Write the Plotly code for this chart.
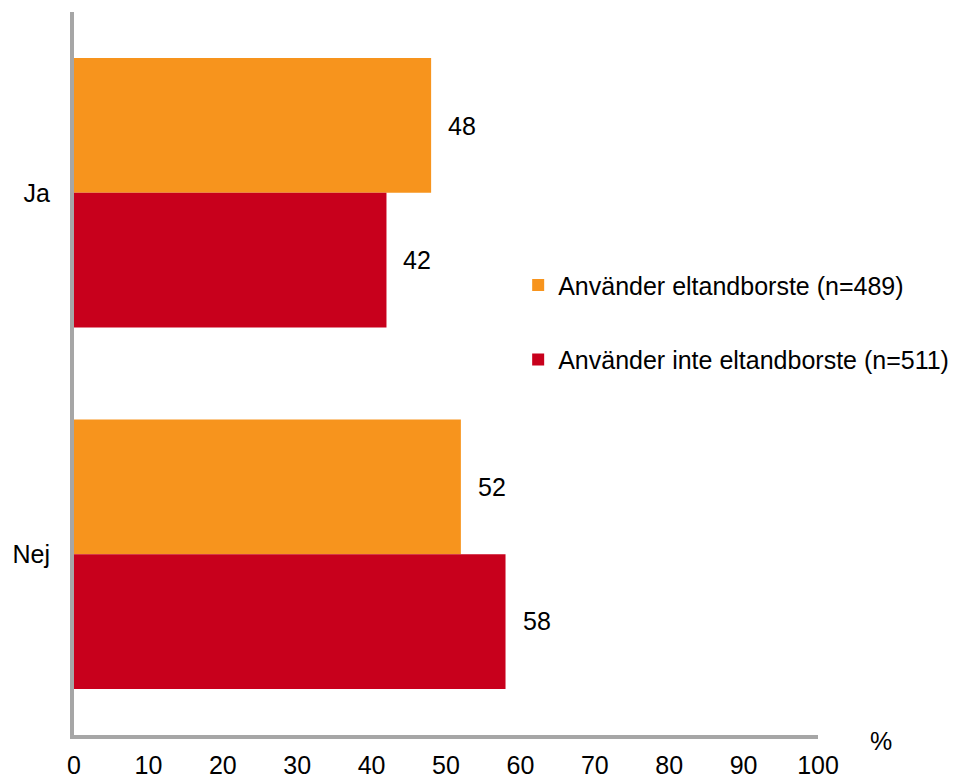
import plotly.graph_objects as go

categories = ["Ja", "Nej"]
series_names = ["Använder eltandborste (n=489)", "Använder inte eltandborste (n=511)"]
values_el = [48, 52]
values_inte = [42, 58]
x_ticks = [0, 10, 20, 30, 40, 50, 60, 70, 80, 90, 100]

colors = ["#F7941D", "#C8001C"]
font_family = "Liberation Sans, Arial, sans-serif"
FS = 25

fig = go.Figure()
for i, (name, vals) in enumerate(zip(series_names, [values_el, values_inte])):
    fig.add_trace(go.Bar(
        y=categories, x=vals, name=name, orientation="h",
        marker=dict(color=colors[i], line=dict(width=0)),
        legendgroup=f"g{i}",
    ))

annotations = []
for i, vals in enumerate([values_el, values_inte]):
    for cat, v in zip(categories, vals):
        annotations.append(dict(
            x=v, y=cat, xref="x", yref="y", text=str(v), showarrow=False,
            xanchor="left", xshift=15, yshift=(67 if i == 0 else -67),
            font=dict(size=FS, color="#000000", family=font_family),
        ))
annotations.append(dict(
    x=1.085, y=-0.008, xref="paper", yref="paper", text="%", showarrow=False,
    xanchor="center", yanchor="middle",
    font=dict(size=FS, color="#000000", family=font_family),
))

fig.update_layout(
    width=958, height=779,
    margin=dict(l=66, r=148, t=4, b=52, autoexpand=False),
    paper_bgcolor="white", plot_bgcolor="white",
    barmode="group", bargap=0.2545, bargroupgap=0,
    font=dict(family=font_family, size=FS, color="#000000"),
    legend=dict(
        x=0.597, y=0.571, xanchor="left", yanchor="middle",
        font=dict(size=FS, family=font_family, color="#000000"),
        tracegroupgap=39, traceorder="grouped",
        bgcolor="rgba(0,0,0,0)",
    ),
    annotations=annotations,
    xaxis=dict(
        range=[0, 100], tickvals=x_ticks, ticktext=[str(t) for t in x_ticks],
        showgrid=False, zeroline=False, automargin=False,
        showline=True, linecolor="#A6A6A6", linewidth=4,
        ticks="", ticklabelstandoff=5,
        tickfont=dict(size=FS, family=font_family, color="#000000"),
    ),
    yaxis=dict(
        autorange="reversed", showgrid=False, zeroline=False, automargin=False,
        showline=True, linecolor="#A6A6A6", linewidth=4,
        ticks="", ticklabelstandoff=15,
        tickfont=dict(size=FS, family=font_family, color="#000000"),
    ),
)

fig.write_html("out.html")
